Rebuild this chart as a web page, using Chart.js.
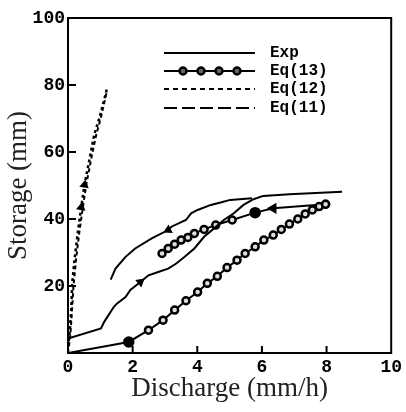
<!DOCTYPE html>
<html>
<head>
<meta charset="utf-8">
<script src="https://cdn.jsdelivr.net/npm/chart.js@4.4.0/dist/chart.umd.min.js"></script>
<style>
  html, body { margin: 0; padding: 0; background: #fff; }
</style>
</head>
<body>
<canvas id="chart" width="406" height="412"></canvas>
<script>
// Exp: rising limb, then the upper (falling) limb
const expRiseX = [0, 1.02, 1.12, 1.42, 1.52, 1.78, 1.93, 2.24, 2.49, 2.79, 3.10, 3.35, 3.61, 3.91, 4.21, 4.52, 4.82, 5.13, 5.43, 5.74, 6.04, 6.85, 8.48];
const expRiseY = [4.3, 7.3, 9.3, 13.8, 14.8, 16.7, 18.8, 21.2, 23.2, 24.2, 25.2, 26.7, 28.7, 31.2, 34.7, 37.2, 39.7, 41.7, 44.2, 45.9, 46.9, 47.4, 48.1];
const expFallX = [5.69, 5.02, 4.72, 4.42, 4.01, 3.81, 3.65, 3.20, 3.10, 2.59, 2.08, 1.78, 1.47, 1.32];
const expFallY = [46.2, 45.7, 44.9, 44.2, 42.7, 41.7, 39.7, 37.7, 36.7, 34.2, 31.2, 28.7, 25.2, 21.9];

// Eq(13)
const eq13RiseX = [0, 1.88, 2.49, 2.94, 3.30, 3.65, 4.01, 4.31, 4.62, 4.92, 5.23, 5.48, 5.79, 6.06, 6.35, 6.60, 6.85, 7.11, 7.34, 7.56, 7.77, 7.97];
const eq13RiseY = [0, 3.3, 6.8, 9.8, 12.8, 15.6, 18.2, 20.8, 22.9, 25.5, 27.7, 29.7, 31.7, 33.7, 35.2, 36.9, 38.5, 40.0, 41.5, 42.7, 43.7, 44.4];
const eq13FallX = [7.97, 6.35, 5.79, 5.08, 4.57, 4.21, 3.91, 3.71, 3.50, 3.30, 3.10, 2.91];
const eq13FallY = [44.4, 43.2, 41.9, 39.7, 38.2, 36.9, 35.7, 34.5, 33.7, 32.5, 31.2, 29.7];

// Eq(12) and Eq(11) - the steep curves near the y axis
const eq12X = [0, 0.05, 0.10, 0.13, 0.20, 0.30, 0.41, 0.51, 0.61, 0.71, 0.81, 0.97, 1.12, 1.22];
const eq12Y = [1.8, 5.8, 12.8, 20.8, 27.7, 35.7, 43.5, 50.2, 55.1, 60.1, 65.1, 70.1, 75.6, 79.5];
const eq11X = [0, 0.07, 0.12, 0.17, 0.25, 0.35, 0.46, 0.56, 0.66, 0.76, 0.87, 1.01, 1.13, 1.20];
const eq11Y = [0, 5.0, 12.0, 20.0, 28.0, 36.0, 43.5, 50.0, 55.0, 60.0, 65.0, 70.0, 75.0, 78.0];

const xTicks = [0, 2, 4, 6, 8, 10];
const yTicks = [20, 40, 60, 80, 100];
const seriesNames = ["Exp", "Eq(13)", "Eq(12)", "Eq(11)"];

const tickFont = { family: "Liberation Mono", weight: "bold", size: 18 };
const titleFont = { family: "Liberation Serif", size: 27 };

function pts(xs, ys) {
    return xs.map((x, i) => ({ x: x, y: ys[i] }));
}

// arrow heads on a few points of the curves
function arrowAt(map, r) {
    return ctx => (ctx.dataIndex in map ? r : 0);
}
function arrowRot(map) {
    return ctx => (ctx.dataIndex in map ? map[ctx.dataIndex] : 0);
}

const expRiseArrows = { 7: 51 };
const expFallArrows = { 8: 243 };
const eq12Arrows = { 6: 10, 7: 10 };

// inward ticks, the closed frame and the legend box
const framePlugin = {
    id: "frame",
    afterDraw(chart) {
        const { ctx, chartArea: a } = chart;
        const xs = chart.scales.x, ys = chart.scales.y;
        ctx.save();
        ctx.strokeStyle = "#000";
        ctx.lineWidth = 2;
        ctx.strokeRect(a.left, a.top, a.right - a.left, a.bottom - a.top);
        ctx.beginPath();
        xTicks.slice(1, -1).forEach(v => {
            const px = xs.getPixelForValue(v);
            ctx.moveTo(px, a.bottom);
            ctx.lineTo(px, a.bottom - 7);
        });
        yTicks.slice(0, -1).forEach(v => {
            const py = ys.getPixelForValue(v);
            ctx.moveTo(a.left, py);
            ctx.lineTo(a.left + 8, py);
        });
        ctx.stroke();

        const lx0 = a.left + 96, lx1 = a.left + 187, tx = a.left + 202;
        const rows = [a.top + 35, a.top + 53, a.top + 71, a.top + 90];
        const dashes = [[], [], [5, 4], [13, 5]];
        ctx.font = "bold 16px 'Liberation Mono'";
        ctx.textBaseline = "middle";
        ctx.fillStyle = "#000";
        rows.forEach((y, i) => {
            ctx.setLineDash(dashes[i]);
            ctx.lineWidth = 2;
            ctx.beginPath();
            ctx.moveTo(lx0, y);
            ctx.lineTo(lx1, y);
            ctx.stroke();
            ctx.setLineDash([]);
            if (i === 1) {
                [19, 37, 55, 73].forEach(dx => {
                    ctx.beginPath();
                    ctx.arc(lx0 + dx, y, 3.5, 0, Math.PI * 2);
                    ctx.fillStyle = "#666";
                    ctx.fill();
                    ctx.lineWidth = 2.5;
                    ctx.stroke();
                });
                ctx.fillStyle = "#000";
            }
            ctx.fillText(seriesNames[i], tx, y);
        });
        ctx.restore();
    }
};

const ctx = document.getElementById("chart").getContext("2d");
new Chart(ctx, {
    type: "scatter",
    data: {
        datasets: [
            {
                label: "Exp",
                data: pts(expRiseX, expRiseY),
                showLine: true,
                borderColor: "#000",
                backgroundColor: "#000",
                borderWidth: 2,
                pointStyle: "triangle",
                pointRadius: arrowAt(expRiseArrows, 3.5),
                pointRotation: arrowRot(expRiseArrows)
            },
            {
                label: "Exp (falling)",
                data: pts(expFallX, expFallY),
                showLine: true,
                borderColor: "#000",
                backgroundColor: "#000",
                borderWidth: 2,
                pointStyle: "triangle",
                pointRadius: arrowAt(expFallArrows, 3.5),
                pointRotation: arrowRot(expFallArrows)
            },
            {
                label: "Eq(13)",
                data: pts(eq13RiseX, eq13RiseY),
                showLine: true,
                borderColor: "#000",
                borderWidth: 2,
                pointStyle: "circle",
                pointRadius: c => (c.dataIndex === 0 ? 0 : (c.dataIndex === 1 ? 4.5 : 3.5)),
                pointBorderWidth: 2.5,
                pointBorderColor: "#000",
                pointBackgroundColor: c => (c.dataIndex === 1 ? "#000" : "#ddd")
            },
            {
                label: "Eq(13) (falling)",
                data: pts(eq13FallX, eq13FallY),
                showLine: true,
                borderColor: "#000",
                borderWidth: 2,
                pointStyle: c => (c.dataIndex === 1 ? "triangle" : "circle"),
                pointRotation: c => (c.dataIndex === 1 ? 270 : 0),
                pointRadius: c => (c.dataIndex === 2 ? 4.5 : (c.dataIndex === 1 ? 4 : 3.5)),
                pointBorderWidth: 2.5,
                pointBorderColor: "#000",
                pointBackgroundColor: c => (c.dataIndex === 1 || c.dataIndex === 2 ? "#000" : "#ddd")
            },
            {
                label: "Eq(12)",
                data: pts(eq12X, eq12Y),
                showLine: true,
                borderColor: "#000",
                backgroundColor: "#000",
                borderWidth: 2.5,
                borderDash: [3, 3],
                pointStyle: "triangle",
                pointRadius: arrowAt(eq12Arrows, 3),
                pointRotation: arrowRot(eq12Arrows)
            },
            {
                label: "Eq(11)",
                data: pts(eq11X, eq11Y),
                showLine: true,
                borderColor: "#000",
                borderWidth: 2,
                borderDash: [4, 3],
                pointRadius: 0
            }
        ]
    },
    options: {
        responsive: false,
        animation: false,
        layout: { padding: { top: 18, right: 9, left: 0, bottom: 0 } },
        plugins: {
            legend: { display: false },
            tooltip: { enabled: false }
        },
        scales: {
            x: {
                type: "linear",
                min: 0,
                max: 10,
                afterFit: s => { s.height = 59; },
                afterBuildTicks: s => { s.ticks = xTicks.map(v => ({ value: v })); },
                grid: { display: false, drawTicks: false },
                border: { display: false },
                ticks: { color: "#000", padding: 4, font: tickFont },
                title: {
                    display: true,
                    text: "Discharge (mm/h)",
                    color: "#222",
                    font: titleFont,
                    padding: { top: 7, bottom: 7 }
                }
            },
            y: {
                type: "linear",
                min: 0,
                max: 100,
                afterFit: s => { s.width = 68; },
                afterBuildTicks: s => { s.ticks = yTicks.map(v => ({ value: v })); },
                grid: { display: false, drawTicks: false },
                border: { display: false },
                ticks: { color: "#000", padding: 3, font: tickFont },
                title: {
                    display: true,
                    text: "Storage (mm)",
                    color: "#222",
                    font: titleFont,
                    padding: { top: 3, bottom: 3 }
                }
            }
        }
    },
    plugins: [framePlugin]
});
</script>
</body>
</html>
